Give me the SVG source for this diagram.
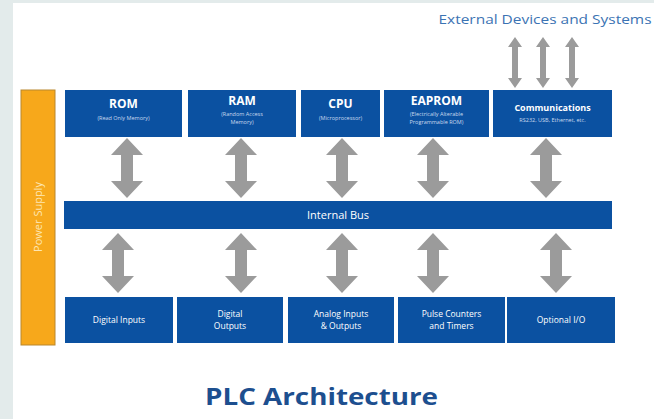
<svg xmlns="http://www.w3.org/2000/svg" xmlns:xlink="http://www.w3.org/1999/xlink" width="654" height="419" viewBox="0 0 654 419">
  <style>
    .box { fill: #0b51a1; }
    .psu { fill: #f7a81b; stroke: #b9872e; stroke-width: 1; }
    .arrow { fill: #9b9b9b; }
    text { font-family: "Open Sans", "Noto Sans", "Liberation Sans", sans-serif; text-anchor: middle; }
    .title { fill: #ffffff; font-weight: 700; font-size: 12px; }
    .sub { fill: #c9d9ee; font-size: 5.5px; }
    .lbl { fill: #ffffff; font-size: 8.5px; }
    .bus { fill: #ffffff; font-size: 11px; }
    .ext { fill: #3b73b3; font-size: 12px; }
    .head { fill: #1d4f8f; font-weight: 700; font-size: 24px; }
    .psutext { fill: #fde6b2; font-size: 11px; }
  </style>
  <defs>
    <!-- two-headed grey arrow, 60 px tall, centred on x = 0 -->
    <path id="dbl" class="arrow" d="M0,0 L16,17 L6,17 L6,43 L16,43 L0,60 L-16,43 L-6,43 L-6,17 L-16,17 Z"/>
    <!-- slimmer two-headed arrow for the external links -->
    <path id="dblSmall" class="arrow" d="M0,0 L7,10 L3,10 L3,41 L7,41 L0,51 L-7,41 L-3,41 L-3,10 L-7,10 Z"/>
  </defs>

  <!-- page backdrop -->
  <rect x="0" y="0" width="654" height="419" fill="#e3ebeb"/>
  <rect x="13" y="3" width="641" height="416" fill="#ffffff"/>

  <text class="ext" x="545" y="24" textLength="213" lengthAdjust="spacingAndGlyphs">External Devices and Systems</text>

  <g id="power-supply">
    <rect class="psu" x="21" y="90" width="34" height="255"/>
    <text class="psutext" transform="translate(42,217) rotate(-90)">Power Supply</text>
  </g>

  <g id="rom">
    <rect class="box" x="65" y="90" width="117" height="47"/>
    <text class="title" x="123.5" y="108">ROM</text>
    <text class="sub" x="123.5" y="120">(Read Only Memory)</text>
  </g>
  <g id="ram">
    <rect class="box" x="188" y="90" width="108" height="47"/>
    <text class="title" x="242" y="105">RAM</text>
    <text class="sub" x="242" y="116">(Random Access</text>
    <text class="sub" x="242" y="124">Memory)</text>
  </g>
  <g id="cpu">
    <rect class="box" x="301" y="90" width="79" height="47"/>
    <text class="title" x="340.5" y="108">CPU</text>
    <text class="sub" x="340.5" y="120">(Microprocessor)</text>
  </g>
  <g id="eaprom">
    <rect class="box" x="384" y="90" width="105" height="47"/>
    <text class="title" x="436.5" y="105">EAPROM</text>
    <text class="sub" x="436.5" y="116">(Electrically Alterable</text>
    <text class="sub" x="436.5" y="124">Programmable ROM)</text>
  </g>
  <g id="communications">
    <rect class="box" x="493" y="90" width="119" height="47"/>
    <text class="title" x="552.5" y="111" style="font-size:9px">Communications</text>
    <text class="sub" x="552.5" y="122">RS232, USB, Ethernet, etc.</text>
  </g>

  <g id="internal-bus">
    <rect class="box" x="64" y="201" width="548" height="28"/>
    <text class="bus" x="338" y="219">Internal Bus</text>
  </g>

  <g id="digital-inputs">
    <rect class="box" x="65" y="297" width="108" height="46"/>
    <text class="lbl" x="119" y="323">Digital Inputs</text>
  </g>
  <g id="digital-outputs">
    <rect class="box" x="177" y="297" width="106" height="46"/>
    <text class="lbl" x="230" y="317">Digital</text>
    <text class="lbl" x="230" y="329">Outputs</text>
  </g>
  <g id="analog-io">
    <rect class="box" x="288" y="297" width="106" height="46"/>
    <text class="lbl" x="341" y="317">Analog Inputs</text>
    <text class="lbl" x="341" y="329">&amp; Outputs</text>
  </g>
  <g id="pulse-counters">
    <rect class="box" x="398" y="297" width="107" height="46"/>
    <text class="lbl" x="451.5" y="317">Pulse Counters</text>
    <text class="lbl" x="451.5" y="329">and Timers</text>
  </g>
  <g id="optional-io">
    <rect class="box" x="507" y="297" width="108" height="46"/>
    <text class="lbl" x="561" y="323">Optional I/O</text>
  </g>

  <g id="connectors">
    <!-- external links above Communications -->
    <use xlink:href="#dblSmall" x="515" y="37"/>
    <use xlink:href="#dblSmall" x="543" y="37"/>
    <use xlink:href="#dblSmall" x="572" y="37"/>
    <!-- top modules to bus -->
    <use xlink:href="#dbl" x="127" y="138"/>
    <use xlink:href="#dbl" x="241" y="138"/>
    <use xlink:href="#dbl" x="342" y="138"/>
    <use xlink:href="#dbl" x="433" y="138"/>
    <use xlink:href="#dbl" x="546" y="138"/>
    <!-- bus to I/O modules -->
    <use xlink:href="#dbl" x="118" y="233"/>
    <use xlink:href="#dbl" x="241" y="233"/>
    <use xlink:href="#dbl" x="342" y="233"/>
    <use xlink:href="#dbl" x="433" y="233"/>
    <use xlink:href="#dbl" x="556" y="233"/>
  </g>

  <text class="head" x="321.5" y="405" textLength="233" lengthAdjust="spacingAndGlyphs">PLC Architecture</text>
</svg>
